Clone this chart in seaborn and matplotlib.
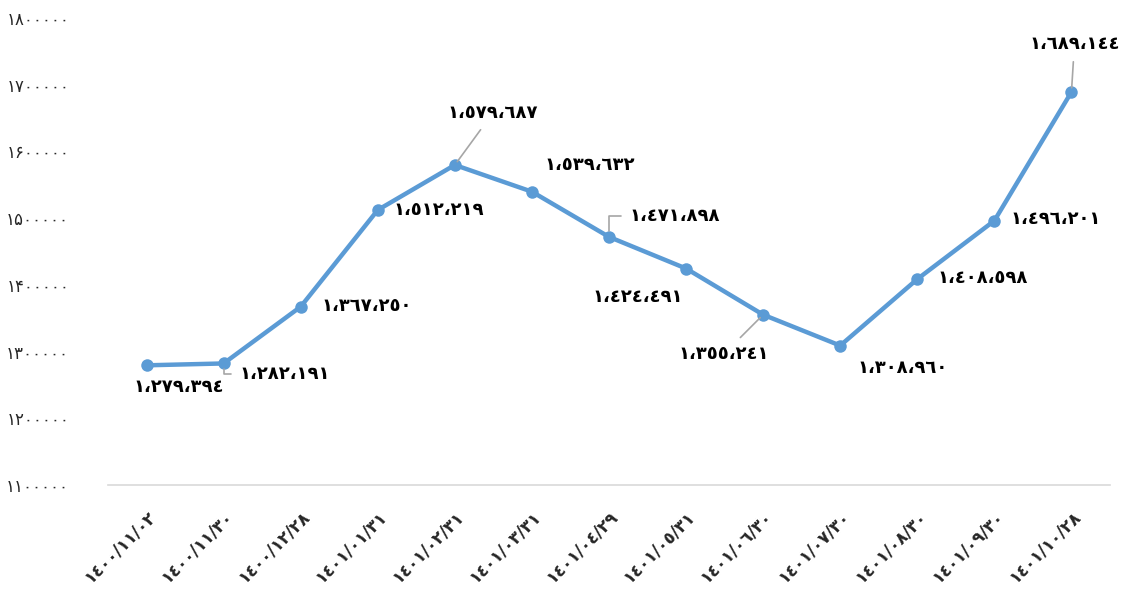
import matplotlib
matplotlib.use("Agg")
import matplotlib.pyplot as plt
import seaborn as sns
import pandas as pd

# dates (Jalali) and values
dates = [
    "١٤٠٠/١١/٠٢", "١٤٠٠/١١/٣٠", "١٤٠٠/١٢/٢٨", "١٤٠١/٠١/٣١", "١٤٠١/٠٢/٣١",
    "١٤٠١/٠٣/٣١", "١٤٠١/٠٤/٢٩", "١٤٠١/٠٥/٣١", "١٤٠١/٠٦/٣٠", "١٤٠١/٠٧/٣٠",
    "١٤٠١/٠٨/٣٠", "١٤٠١/٠٩/٣٠", "١٤٠١/١٠/٢٨",
]
values = [1279394, 1282191, 1367250, 1512219, 1579687, 1539632, 1471898,
          1424491, 1355241, 1308960, 1408598, 1496201, 1689144]
y_ticks = [1100000, 1200000, 1300000, 1400000, 1500000, 1600000, 1700000, 1800000]

# label offsets in pixels (dx, dy) and leader style
label_offsets = [(32, -22), (61, -11), (66, 1), (61, 0), (38, 52), (58, 27), (66, 21),
                 (-48, -28), (-39, -39), (62, -22), (65, 1), (61, 2), (3, 48)]
leaders = {1: "angle", 4: "line", 6: "angle", 8: "line", 12: "line"}

arabic = str.maketrans("0123456789", "٠١٢٣٤٥٦٧٨٩")
persian = str.maketrans("0123456789", "۰۱۲۳۴۵۶۷۸۹")


def fmt_label(v):
    return f"{v:,}".replace(",", "،").translate(arabic)


df = pd.DataFrame({"idx": range(len(dates)), "value": values})

sns.set_style("white")
plt.rcParams["font.family"] = ["DejaVu Sans"]

fig = plt.figure(figsize=(11.29, 5.96), dpi=100)
ax = fig.add_axes([108 / 1129, 1 - 485 / 596, 1002 / 1129, 467 / 596])

sns.lineplot(data=df, x="idx", y="value", ax=ax, color="#5B9BD5", linewidth=3.2,
             marker="o", markersize=9, markeredgewidth=0, zorder=3)

ax.set_xlim(-0.5, len(dates) - 0.5)
ax.set_ylim(1100000, 1800000)
ax.set_yticks(y_ticks)
ax.set_yticklabels([str(t).translate(persian) for t in y_ticks], fontsize=12)
ax.set_xticks(range(len(dates)))
ax.set_xticklabels(dates, rotation=45, ha="right", rotation_mode="anchor",
                   fontsize=12, fontweight="bold")
ax.tick_params(axis="x", length=0, pad=16)
ax.tick_params(axis="y", length=0, pad=28)
ax.set_xlabel("")
ax.set_ylabel("")

for side in ["top", "right", "left"]:
    ax.spines[side].set_visible(False)
ax.spines["bottom"].set_color("#D9D9D9")
ax.spines["bottom"].set_linewidth(1.2)

for i, v in enumerate(values):
    dx, dy = label_offsets[i]
    kw = {}
    if i in leaders:
        if leaders[i] == "angle":
            kw["arrowprops"] = dict(arrowstyle="-", color="#A6A6A6", lw=1.2,
                                    connectionstyle="angle,angleA=0,angleB=90,rad=0",
                                    relpos=(0, 0.5), shrinkA=4, shrinkB=4)
        else:
            kw["arrowprops"] = dict(arrowstyle="-", color="#A6A6A6", lw=1.2,
                                    shrinkA=4, shrinkB=3)
    ax.annotate(fmt_label(v), xy=(i, v), xytext=(dx, dy), textcoords="offset pixels",
                ha="center", va="center", fontsize=13, fontweight="bold",
                color="#000000", **kw)

fig.savefig("out.png", dpi=100)
